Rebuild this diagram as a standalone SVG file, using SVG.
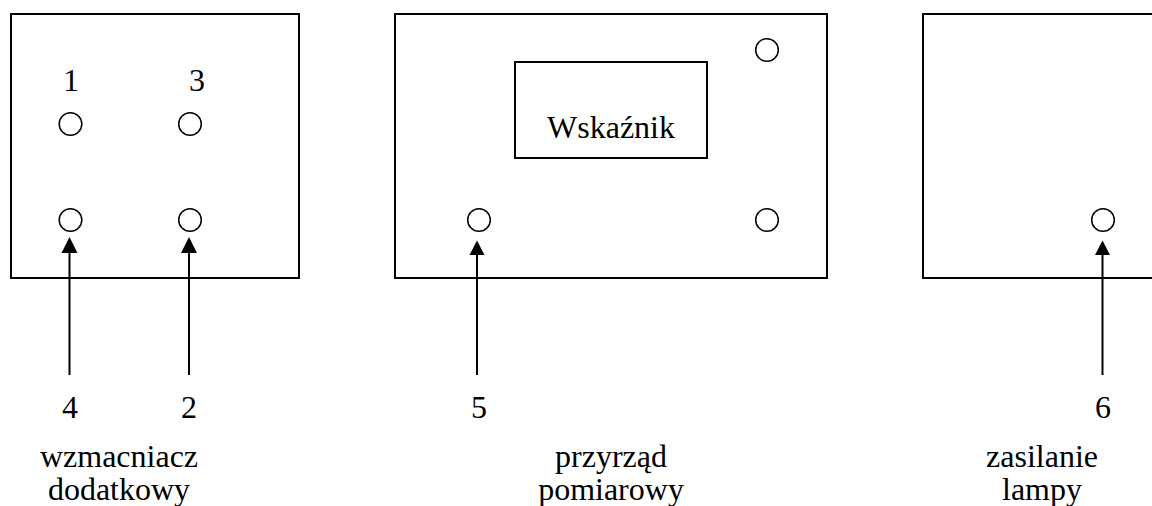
<svg xmlns="http://www.w3.org/2000/svg" width="1152" height="506" viewBox="0 0 1152 506">
<defs>
<style>
.box{fill:#fff;stroke:#000;stroke-width:2}
.hole{fill:none;stroke:#000;stroke-width:1.5}
.t{font-family:'Liberation Serif','Times New Roman',Times,'DejaVu Serif',serif;font-size:32px;fill:#000;text-anchor:middle}
.c{stroke:#000;stroke-width:2;fill:none}
.ah{fill:#000;stroke:none}
</style>
</defs>
<rect width="1152" height="506" fill="#fff"/>
<g id="wzmacniacz">
<rect class="box" x="11" y="14" width="288" height="264"/>
<circle class="hole" cx="70.5" cy="124" r="11.3"/>
<circle class="hole" cx="190" cy="124" r="11.3"/>
<circle class="hole" cx="70.5" cy="220" r="11.3"/>
<circle class="hole" cx="190" cy="220" r="11.3"/>
<text class="t" x="71" y="91">1</text>
<text class="t" x="197" y="91">3</text>
<text class="t" x="70" y="418">4</text>
<text class="t" x="189" y="418">2</text>
<text class="t" x="119" y="467">wzmacniacz</text>
<text class="t" x="119" y="500">dodatkowy</text>
</g>
<g id="przyrzad">
<rect class="box" x="395" y="14" width="432" height="264"/>
<rect class="box" x="515" y="62" width="192" height="96"/>
<text class="t" x="611" y="138">Wskaźnik</text>
<circle class="hole" cx="767" cy="50" r="11.3"/>
<circle class="hole" cx="479" cy="220" r="11.3"/>
<circle class="hole" cx="767" cy="220" r="11.3"/>
<text class="t" x="479" y="418">5</text>
<text class="t" x="611" y="467">przyrząd</text>
<text class="t" x="611" y="500">pomiarowy</text>
</g>
<g id="zasilanie">
<rect class="box" x="923" y="14" width="250" height="264"/>
<circle class="hole" cx="1103" cy="220" r="11.3"/>
<text class="t" x="1103" y="418">6</text>
<text class="t" x="1042" y="467">zasilanie</text>
<text class="t" x="1042" y="500">lampy</text>
</g>
<g id="connectors">
<line class="c" x1="69.5" y1="375" x2="69.5" y2="252"/>
<path class="ah" d="M61.5,253 L69.5,237 L77.5,253 Z"/>
<line class="c" x1="189" y1="375" x2="189" y2="252"/>
<path class="ah" d="M181,253 L189,237 L197,253 Z"/>
<line class="c" x1="477" y1="375" x2="477" y2="254"/>
<path class="ah" d="M469.5,255 L477,240.5 L484.5,255 Z"/>
<line class="c" x1="1102.5" y1="375" x2="1102.5" y2="254"/>
<path class="ah" d="M1095,255 L1102.5,240.5 L1110,255 Z"/>
</g>
</svg>
